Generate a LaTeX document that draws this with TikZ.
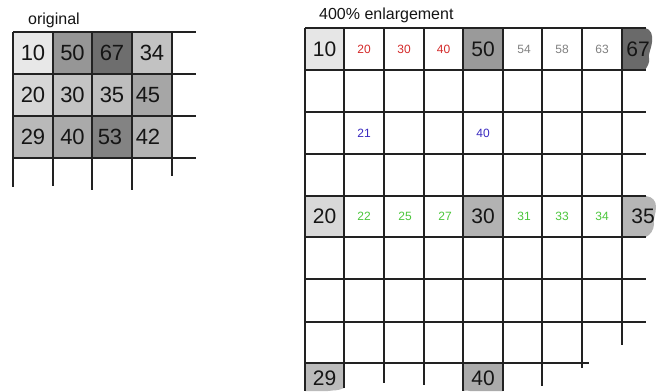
\documentclass[tikz,border=0pt]{standalone}
\usepackage{fontspec}
\setmainfont{Liberation Sans}
\definecolor{gridc}{HTML}{222222}
\definecolor{numc}{HTML}{151515}
\definecolor{redn}{HTML}{D42A2A}
\definecolor{bluen}{HTML}{3A2AC0}
\definecolor{greenn}{HTML}{4CC63C}
\definecolor{grayn}{HTML}{808080}
\begin{document}
\begin{tikzpicture}[x=1pt,y=-1pt,
  gl/.style={draw=gridc, line width=1.1pt},
  lbig/.style={font=\fontsize{22}{22}\selectfont, text=numc, inner sep=0pt},
  rbig/.style={font=\fontsize{21}{21}\selectfont, text=numc, inner sep=0pt},
  small/.style={font=\fontsize{12}{12}\selectfont, inner sep=0pt},
  title/.style={font=\fontsize{16}{16}\selectfont, text=numc, inner sep=0pt}]
\useasboundingbox (0,0) rectangle (656,391);
\fill[white] (0,0) rectangle (656,391);
% ---------- original grid ----------
\node[title, anchor=west] (torig) at (28,20) {original};
\fill[fill={rgb,255:red,232;green,232;blue,232}] (13,32) rectangle (53,74);
\fill[fill={rgb,255:red,150;green,150;blue,150}] (53,32) rectangle (92,74);
\fill[fill={rgb,255:red,110;green,110;blue,110}] (92,32) rectangle (132,74);
\fill[fill={rgb,255:red,194;green,194;blue,194}] (132,32) rectangle (172,74);
\fill[fill={rgb,255:red,214;green,214;blue,214}] (13,74) rectangle (53,116);
\fill[fill={rgb,255:red,196;green,196;blue,196}] (53,74) rectangle (92,116);
\fill[fill={rgb,255:red,190;green,190;blue,190}] (92,74) rectangle (132,116);
\fill[fill={rgb,255:red,166;green,166;blue,166}] (132,74) rectangle (172,116);
\fill[fill={rgb,255:red,185;green,185;blue,185}] (13,116) rectangle (53,158);
\fill[fill={rgb,255:red,170;green,170;blue,170}] (53,116) rectangle (92,158);
\fill[fill={rgb,255:red,131;green,131;blue,131}] (92,116) rectangle (132,158);
\fill[fill={rgb,255:red,179;green,179;blue,179}] (132,116) rectangle (172,158);
\foreach \y in {32,74,116,158} \draw[gl] (13,\y) -- (196,\y);
\draw[gl] (13,32) -- (13,187);
\draw[gl] (53,32) -- (53,186);
\draw[gl] (92,32) -- (92,190);
\draw[gl] (132,32) -- (132,190);
\draw[gl] (172,32) -- (172,176);
\node[lbig] (o11) at (33,53) {10};
\node[lbig] (o12) at (72.5,53) {50};
\node[lbig] (o13) at (112,53) {67};
\node[lbig] (o14) at (152,53) {34};
\node[lbig] (o21) at (33,95) {20};
\node[lbig] (o22) at (72.5,95) {30};
\node[lbig] (o23) at (112,95) {35};
\node[lbig] (o24) at (148,95) {45};
\node[lbig] (o31) at (33,137) {29};
\node[lbig] (o32) at (72.5,137) {40};
\node[lbig] (o33) at (110,137) {53};
\node[lbig] (o34) at (148,137) {42};
% ---------- enlarged grid ----------
\node[title, anchor=west] (tenl) at (319,15) {400\% enlargement};
\fill[fill={rgb,255:red,230;green,230;blue,230}] (305,28) rectangle (344,70);
\fill[fill={rgb,255:red,154;green,154;blue,154}] (463,28) rectangle (503,70);
\fill[fill={rgb,255:red,106;green,106;blue,106}] (622,28) -- (645,28)
   .. controls (651,29) and (653,35) .. (652,42)
   .. controls (651,50) and (648,54) .. (649,58)
   .. controls (650,63) and (647,67) .. (645,70) -- (622,70) -- cycle;
\fill[fill={rgb,255:red,216;green,216;blue,216}] (305,196) rectangle (344,237);
\fill[fill={rgb,255:red,178;green,178;blue,178}] (463,196) rectangle (503,237);
\fill[fill={rgb,255:red,182;green,182;blue,182}] (622,196) -- (646,196)
   .. controls (653,197) and (656,201) .. (656,207)
   .. controls (656,214) and (653,218) .. (654,224)
   .. controls (654,230) and (650,235) .. (646,237) -- (622,237) -- cycle;
\fill[fill={rgb,255:red,187;green,187;blue,187}] (305,363) -- (344,363) -- (344,388)
   .. controls (338,391) and (334,390) .. (328,391) -- (305,391) -- cycle;
\fill[fill={rgb,255:red,171;green,171;blue,171}] (463,363) -- (503,363) -- (503,391)
   -- (470,391) .. controls (466,390) and (464,391) .. (463,391) -- cycle;
\foreach \y in {28,70,112,154,196,237,279,322} \draw[gl] (305,\y) -- (646,\y);
\draw[gl] (305,363) -- (589,363);
\draw[gl] (305,28) -- (305,391);
\draw[gl] (344,28) -- (344,388);
\draw[gl] (384,28) -- (384,383);
\draw[gl] (424,28) -- (424,385);
\draw[gl] (463,28) -- (463,391);
\draw[gl] (503,28) -- (503,391);
\draw[gl] (542,28) -- (542,386);
\draw[gl] (582,28) -- (582,368);
\draw[gl] (622,28) -- (622,345);
% big numbers
\node[rbig] (e11) at (324.5,49) {10};
\node[rbig] (e15) at (483,49) {50};
\node[rbig] (e19) at (638,49) {67};
\node[rbig] (e51) at (324.5,216.5) {20};
\node[rbig] (e55) at (483,216.5) {30};
\node[rbig] (e59) at (643,216.5) {35};
\node[rbig] (e91) at (324.5,378) {29};
\node[rbig] (e95) at (483,378) {40};
% row 1 small numbers
\node[small, text=redn] (e12) at (364,49) {20};
\node[small, text=redn] (e13) at (404,49) {30};
\node[small, text=redn] (e14) at (443.5,49) {40};
\node[small, text=grayn] (e16) at (524,49) {54};
\node[small, text=grayn] (e17) at (562,49) {58};
\node[small, text=grayn] (e18) at (602,49) {63};
% row 3 blue
\node[small, text=bluen] (e32) at (364,133) {21};
\node[small, text=bluen] (e35) at (483,133) {40};
% row 5 green
\node[small, text=greenn] (e52) at (364,216.5) {22};
\node[small, text=greenn] (e53) at (405,216.5) {25};
\node[small, text=greenn] (e54) at (445,216.5) {27};
\node[small, text=greenn] (e56) at (524,216.5) {31};
\node[small, text=greenn] (e57) at (562,216.5) {33};
\node[small, text=greenn] (e58) at (602,216.5) {34};
\end{tikzpicture}
\end{document}
